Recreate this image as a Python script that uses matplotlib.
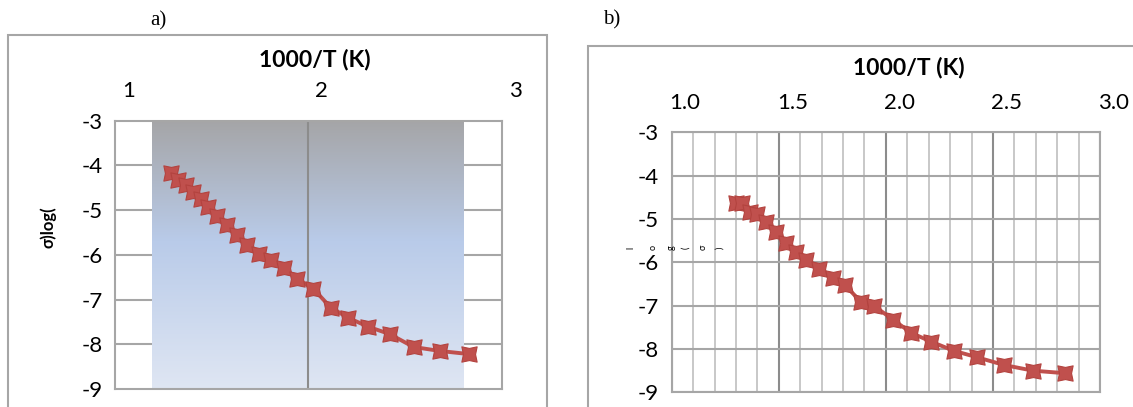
import numpy as np
import matplotlib
matplotlib.use('Agg')
import matplotlib.pyplot as plt
from matplotlib.colors import LinearSegmentedColormap
from matplotlib.patches import Rectangle
from matplotlib.path import Path
from matplotlib.ticker import MultipleLocator, FormatStrFormatter
from matplotlib.transforms import ScaledTranslation, Affine2D

plt.rcParams['font.family'] = ['Lato', 'DejaVu Sans']
plt.rcParams['axes.unicode_minus'] = False

# panel a data
x_a = [1.288, 1.327, 1.367, 1.405, 1.443, 1.482, 1.529, 1.581, 1.632, 1.684, 1.745,
       1.805, 1.873, 1.943, 2.026, 2.116, 2.207, 2.311, 2.420, 2.544, 2.681, 2.833]
y_a = [-4.18, -4.33, -4.44, -4.59, -4.76, -4.92, -5.13, -5.33, -5.56, -5.78, -5.99,
       -6.12, -6.30, -6.54, -6.76, -7.18, -7.41, -7.61, -7.77, -8.06, -8.15, -8.22]

# panel b data
x_b = [1.298, 1.328, 1.365, 1.398, 1.441, 1.486, 1.533, 1.580, 1.629, 1.690, 1.752,
       1.808, 1.883, 1.946, 2.035, 2.119, 2.211, 2.316, 2.425, 2.552, 2.686, 2.838]
y_b = [-4.62, -4.64, -4.83, -4.89, -5.06, -5.29, -5.55, -5.76, -5.95, -6.16, -6.36,
       -6.52, -6.91, -7.01, -7.33, -7.63, -7.83, -8.04, -8.19, -8.37, -8.50, -8.56]

xticks_a = [1, 2, 3]
xticks_b = [1.0, 1.5, 2.0, 2.5, 3.0]
yticks = [-3, -4, -5, -6, -7, -8, -9]
xlabel = '1000/T (K)'
ylabel_a = 'σ)log('
ylabel_b_chars = ['l', 'o', 'g', '(', 'σ', ')']

W, H = 1133, 407
fig = plt.figure(figsize=(W / 100, H / 100), dpi=100)

def fx(px):
    return px / W

def fy(py):
    return 1 - py / H

red = '#c0504d'
grid_col = '#a6a6a6'
# four pointed star with pointed corners, like the excel marker
star = Path.unit_regular_star(4, 0.56).transformed(Affine2D().rotate_deg(45))
line_kw = dict(color=red, lw=2.8, marker=star, ms=11, mfc=red, mec='#b3433f', mew=0.8,
               zorder=4, clip_on=False)

# outer frames
fig.patches.append(Rectangle((fx(7.5), fy(420)), fx(546.7 - 7.5), (420 - 35) / H,
                             transform=fig.transFigure, fill=False, ec='#a6a6a6', lw=1.5))
fig.patches.append(Rectangle((fx(588.3), fy(420)), fx(1200 - 588.3), (420 - 45.7) / H,
                             transform=fig.transFigure, fill=False, ec='#a6a6a6', lw=1.5))

fig.text(fx(158), fy(21), 'a)', family='Liberation Serif', fontsize=15, ha='center', va='center')
fig.text(fx(612), fy(20), 'b)', family='Liberation Serif', fontsize=15, ha='center', va='center')

shift = ScaledTranslation(13.5 / 100, 0, fig.dpi_scale_trans)

def style_axes(ax, xticks):
    ax.set_xlim(1, 3)
    ax.set_ylim(-9, -3)
    ax.xaxis.tick_top()
    ax.set_xticks(xticks)
    ax.set_yticks(yticks)
    ax.tick_params(axis='x', length=0, pad=14, labelsize=16)
    ax.tick_params(axis='y', length=0, pad=9, labelsize=16)
    for lbl in ax.get_xticklabels():
        lbl.set_transform(lbl.get_transform() + shift)
    for s in ax.spines.values():
        s.set_color(grid_col)
        s.set_linewidth(1.5)
        s.set_zorder(3)

# ---- panel a ----
ax1 = fig.add_axes([fx(115), fy(389), fx(501.7 - 115), (389 - 120.7) / H])
style_axes(ax1, xticks_a)
for yv in yticks[1:-1]:
    ax1.axhline(yv, color=grid_col, lw=1.5, zorder=0.5)
cmap = LinearSegmentedColormap.from_list('bg', [(0, '#a5a5a7'), (0.45, '#b9cbe9'), (1, '#dfe6f3')])
grad = np.linspace(0, 1, 256).reshape(-1, 1)
ax1.imshow(grad, cmap=cmap, aspect='auto', extent=[1.193, 2.805, -9, -3], origin='upper',
           zorder=1, interpolation='bilinear')
ax1.set_xlim(1, 3)
ax1.set_ylim(-9, -3)
ax1.axvline(2, color='#8c8c8c', lw=1.5, zorder=1.5)
ax1.plot(x_a, y_a, **line_kw)
fig.text(fx(314.5), fy(59), xlabel, fontsize=16.5, fontweight='bold', ha='center', va='center')
fig.text(fx(48), fy(227), ylabel_a, fontsize=12, fontweight='bold', rotation=90,
         ha='center', va='center')

# ---- panel b ----
ax2 = fig.add_axes([fx(671.7), fy(392.3), fx(1100 - 671.7), (392.3 - 132.3) / H])
style_axes(ax2, xticks_b)
ax2.xaxis.set_major_formatter(FormatStrFormatter('%.1f'))
ax2.xaxis.set_minor_locator(MultipleLocator(0.1))
ax2.tick_params(axis='x', which='minor', length=0)
ax2.grid(True, axis='x', which='minor', color='#c4c4c4', lw=1.3, zorder=0.5)
ax2.grid(True, axis='x', which='major', color='#8c8c8c', lw=1.5, zorder=0.6)
ax2.grid(True, axis='y', which='major', color=grid_col, lw=1.5, zorder=0.6)
ax2.set_axisbelow(True)
ax2.plot(x_b, y_b, **line_kw)
fig.text(fx(909), fy(68), xlabel, fontsize=16.5, fontweight='bold', ha='center', va='center')
# broken y label of panel b: each glyph turned on its side
for ch, px in zip(ylabel_b_chars, [631, 653.3, 671, 686, 703.3, 720]):
    fig.text(fx(px), fy(247.7), ch, fontsize=6.5, rotation=90, ha='center', va='center')

fig.savefig('out.png', dpi=100)
